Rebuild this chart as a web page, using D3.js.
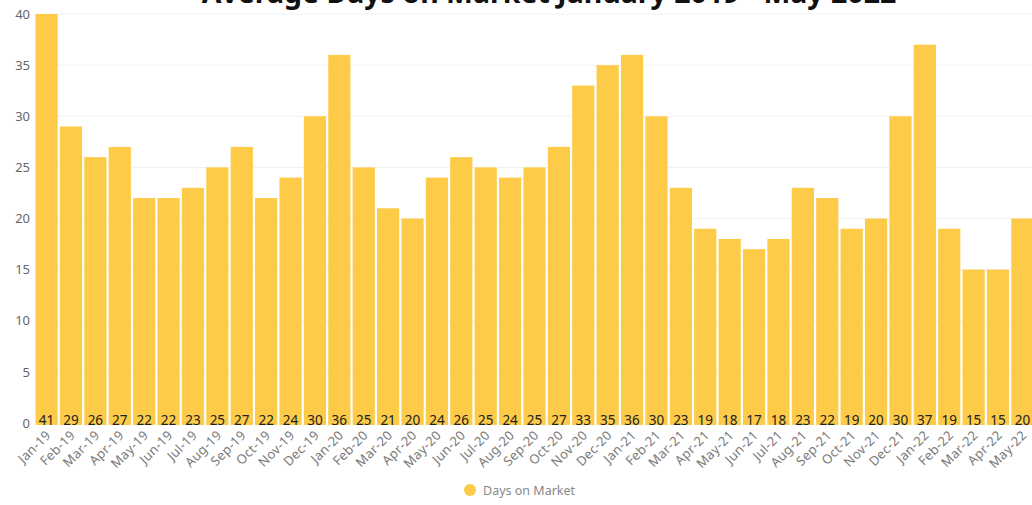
<!DOCTYPE html>
<html>
<head>
<meta charset="utf-8">
<script src="https://cdn.jsdelivr.net/npm/d3@7"></script>
<style>
  html, body { margin: 0; padding: 0; background: #fff; }
  svg { display: block; font-family: "Noto Sans", "Open Sans", sans-serif; }
</style>
</head>
<body>
<svg id="chart" width="1032" height="505"></svg>
<script>
// Monthly average days on market, Jan 2019 – May 2022
const months = [
  "Jan-19","Feb-19","Mar-19","Apr-19","May-19","Jun-19","Jul-19","Aug-19","Sep-19","Oct-19","Nov-19","Dec-19",
  "Jan-20","Feb-20","Mar-20","Apr-20","May-20","Jun-20","Jul-20","Aug-20","Sep-20","Oct-20","Nov-20","Dec-20",
  "Jan-21","Feb-21","Mar-21","Apr-21","May-21","Jun-21","Jul-21","Aug-21","Sep-21","Oct-21","Nov-21","Dec-21",
  "Jan-22","Feb-22","Mar-22","Apr-22","May-22"
];
const daysOnMarket = [
  41, 29, 26, 27, 22, 22, 23, 25, 27, 22, 24, 30,
  36, 25, 21, 20, 24, 26, 25, 24, 25, 27, 33, 35,
  36, 30, 23, 19, 18, 17, 18, 23, 22, 19, 20, 30,
  37, 19, 15, 15, 20
];
const yTicks = [0, 5, 10, 15, 20, 25, 30, 35, 40];
const seriesName = "Days on Market";
const titleText = "Average Days on Market January 2019 - May 2022";

const svg = d3.select("#chart");
const barColor = "#FDCB48";
const font = "'Noto Sans', 'Open Sans', sans-serif";

const x = d3.scaleBand().domain(months).range([35, 1034]).paddingInner(0.09).paddingOuter(0.02);
const y = d3.scaleLinear().domain([0, 40]).range([423, 14]).clamp(true);

// horizontal grid lines
svg.append("g")
  .selectAll("line")
  .data(yTicks)
  .join("line")
  .attr("x1", 36).attr("x2", 1032)
  .attr("y1", d => y(d)).attr("y2", d => y(d))
  .attr("stroke", "#f1f1f1").attr("stroke-width", 1);

// y axis labels
const yAxis = d3.axisLeft(y).tickValues(yTicks).tickSize(0).tickPadding(0);
svg.append("g")
  .attr("transform", "translate(30,0)")
  .call(yAxis)
  .call(g => g.select(".domain").remove())
  .call(g => g.selectAll("text")
    .attr("fill", "#666").attr("font-size", 13).attr("dy", "0.32em")
    .attr("font-family", font));

// bars
svg.append("g")
  .selectAll("rect")
  .data(daysOnMarket)
  .join("rect")
  .attr("x", (d, i) => x(months[i]))
  .attr("width", x.bandwidth())
  .attr("y", d => y(d))
  .attr("height", d => y(0) + 2 - y(d))
  .attr("fill", barColor);

// value labels at the base of each bar
svg.append("g")
  .selectAll("text")
  .data(daysOnMarket)
  .join("text")
  .attr("x", (d, i) => x(months[i]) + x.bandwidth() / 2)
  .attr("y", y(0) - 3)
  .attr("dy", "0.35em")
  .attr("text-anchor", "middle")
  .attr("font-size", 13.5)
  .attr("fill", "#222")
  .text(d => d);

// x axis labels, rotated
const xAxis = d3.axisBottom(x).tickSize(0).tickPadding(0);
svg.append("g")
  .attr("transform", `translate(0,${y(0)})`)
  .call(xAxis)
  .call(g => g.select(".domain").remove())
  .call(g => g.selectAll("text")
    .attr("fill", "#7a7a7a").attr("font-size", 13)
    .attr("font-family", font)
    .attr("letter-spacing", "0.3px")
    .attr("text-anchor", "end")
    .attr("dy", null).attr("y", 0)
    .attr("transform", "translate(5,13) rotate(-45)"));

// legend
const legend = svg.append("g").attr("transform", "translate(470,492)");
legend.append("circle").attr("r", 6).attr("cx", 0).attr("cy", -2).attr("fill", barColor);
legend.append("text").attr("x", 13).attr("y", 2.5)
  .attr("font-size", 12.5).attr("fill", "#888").text(seriesName);

// title (partly above the top edge)
svg.append("text")
  .attr("x", 549).attr("y", 3)
  .attr("text-anchor", "middle")
  .attr("font-size", 28.5).attr("font-weight", "bold").attr("fill", "#111")
  .text(titleText);
</script>
</body>
</html>
